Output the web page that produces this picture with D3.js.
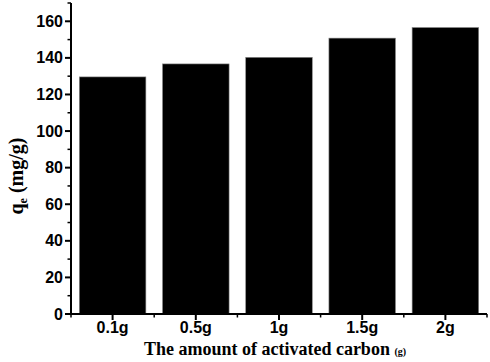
<!DOCTYPE html>
<html>
<head>
<meta charset="utf-8">
<script src="https://cdn.jsdelivr.net/npm/d3@7"></script>
<style>
  body { margin: 0; background: #fff; }
  svg { display: block; }
  .tick-label { font-family: "Liberation Sans", Arial, sans-serif; font-weight: bold; font-size: 16px; }
  .axis-title { font-family: "Liberation Serif", "Times New Roman", serif; font-weight: bold; }
</style>
</head>
<body>
<div id="viz"></div>
<script>
const categories = ["0.1g", "0.5g", "1g", "1.5g", "2g"];
const qeValues = [129.6, 136.7, 140.3, 150.8, 156.6];
const yTicks = [0, 20, 40, 60, 80, 100, 120, 140, 160];
const yMinorTicks = [10, 30, 50, 70, 90, 110, 130, 150, 170];

const width = 490, height = 362;
const margin = { left: 71, right: 3, top: 3, bottom: 48 };

const svg = d3.select("#viz").append("svg")
    .attr("width", width)
    .attr("height", height);

const xScale = d3.scaleBand()
    .domain(categories)
    .range([margin.left, width - margin.right])
    .paddingInner(0.2)
    .paddingOuter(0.1);

const yScale = d3.scaleLinear()
    .domain([0, 170])
    .range([height - margin.bottom, margin.top]);

const y0 = yScale(0);

// bars
svg.selectAll(".bar")
    .data(categories.map((c, i) => ({ name: c, value: qeValues[i] })))
    .join("rect")
        .attr("class", "bar")
        .attr("x", d => xScale(d.name))
        .attr("y", d => yScale(d.value))
        .attr("width", xScale.bandwidth())
        .attr("height", d => y0 - yScale(d.value))
        .attr("fill", "#000")
        .attr("stroke", "#888")
        .attr("stroke-width", 0.6);

// y axis
const yAxis = svg.append("g").attr("transform", `translate(${margin.left},0)`);
yAxis.append("line")
    .attr("x1", 0).attr("x2", 0)
    .attr("y1", yScale(170)).attr("y2", y0 + 1)
    .attr("stroke", "#000").attr("stroke-width", 2);
yAxis.selectAll(".ymajor")
    .data(yTicks)
    .join("line")
        .attr("class", "ymajor")
        .attr("x1", -6).attr("x2", 0)
        .attr("y1", d => yScale(d)).attr("y2", d => yScale(d))
        .attr("stroke", "#000").attr("stroke-width", 2);
yAxis.selectAll(".yminor")
    .data(yMinorTicks)
    .join("line")
        .attr("class", "yminor")
        .attr("x1", -3.5).attr("x2", 0)
        .attr("y1", d => yScale(d)).attr("y2", d => yScale(d))
        .attr("stroke", "#000").attr("stroke-width", 1.5);
yAxis.selectAll(".ylabel")
    .data(yTicks)
    .join("text")
        .attr("class", "tick-label")
        .attr("x", -8)
        .attr("y", d => yScale(d) + 5.6)
        .attr("text-anchor", "end")
        .text(d => d);

// x axis
const xAxis = svg.append("g").attr("transform", `translate(0,${y0})`);
xAxis.append("line")
    .attr("x1", margin.left - 1).attr("x2", width - margin.right)
    .attr("y1", 0).attr("y2", 0)
    .attr("stroke", "#000").attr("stroke-width", 2);
xAxis.selectAll(".xmajor")
    .data(categories)
    .join("line")
        .attr("class", "xmajor")
        .attr("x1", d => xScale(d) + xScale.bandwidth() / 2)
        .attr("x2", d => xScale(d) + xScale.bandwidth() / 2)
        .attr("y1", 0).attr("y2", 6)
        .attr("stroke", "#000").attr("stroke-width", 2);
const step = xScale.step();
const bounds = d3.range(categories.length + 1).map(i => margin.left + i * step);
xAxis.selectAll(".xminor")
    .data(bounds)
    .join("line")
        .attr("class", "xminor")
        .attr("x1", d => d).attr("x2", d => d)
        .attr("y1", 0).attr("y2", 3.5)
        .attr("stroke", "#000").attr("stroke-width", 1.5);
xAxis.selectAll(".xlabel")
    .data(categories)
    .join("text")
        .attr("class", "tick-label")
        .attr("x", d => xScale(d) + xScale.bandwidth() / 2)
        .attr("y", 19)
        .attr("text-anchor", "middle")
        .text(d => d);

// x title
const xTitle = svg.append("text")
    .attr("class", "axis-title")
    .attr("x", 275)
    .attr("y", 355)
    .attr("text-anchor", "middle")
    .style("font-size", "18px");
xTitle.append("tspan").text("The amount of activated carbon ");
xTitle.append("tspan").style("font-size", "10px").text("(g)");

// y title
const yTitle = svg.append("text")
    .attr("class", "axis-title")
    .attr("transform", `translate(23,176) rotate(-90)`)
    .attr("text-anchor", "middle")
    .style("font-size", "20px");
yTitle.append("tspan").text("q");
yTitle.append("tspan").style("font-size", "12px").attr("dy", 4).text("e");
yTitle.append("tspan").attr("dy", -4).text(" (mg/g)");
</script>
</body>
</html>
